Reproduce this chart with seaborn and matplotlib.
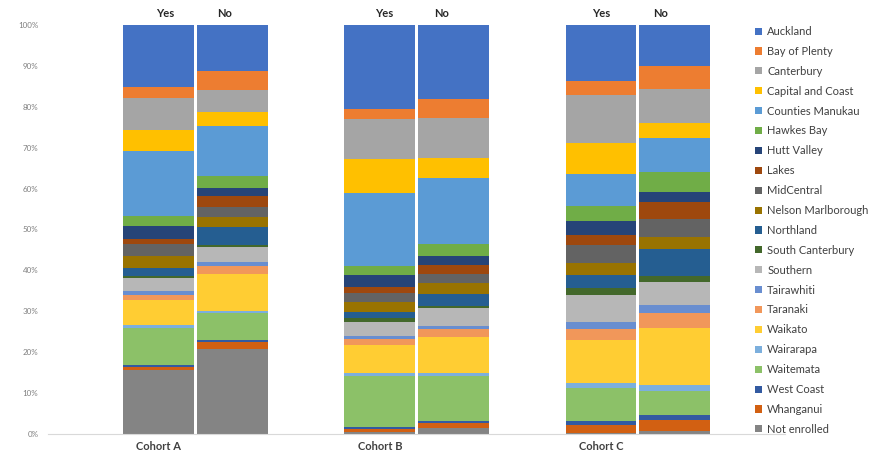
import numpy as np
import pandas as pd
import matplotlib
matplotlib.use("Agg")
import matplotlib.pyplot as plt
import seaborn as sns
from matplotlib.patches import Patch

# ---------------- data ----------------
regions = ["Auckland", "Bay of Plenty", "Canterbury", "Capital and Coast",
           "Counties Manukau", "Hawkes Bay", "Hutt Valley", "Lakes", "MidCentral",
           "Nelson Marlborough", "Northland", "South Canterbury", "Southern",
           "Tairawhiti", "Taranaki", "Waikato", "Wairarapa", "Waitemata",
           "West Coast", "Whanganui", "Not enrolled"]

region_colors = ["#4472C4", "#ED7D31", "#A5A5A5", "#FFC000", "#5B9BD5", "#70AD47",
                 "#264478", "#9E480E", "#636363", "#997300", "#255E91", "#43682B",
                 "#B7B7B7", "#698ED0", "#F1975A", "#FFCD33", "#7CAFDD", "#8CC168",
                 "#335AA1", "#D26012", "#848484"]

cohorts = ["Cohort A", "Cohort B", "Cohort C"]
responses = ["Yes", "No"]

# percentages per region (same order as `regions`)
cohort_a_yes = [15.2, 2.7, 7.6, 5.2, 16.0, 2.4, 3.0, 1.4, 2.8, 3.0, 2.0, 0.5,
                3.2, 1.0, 1.0, 6.3, 0.6, 9.1, 0.5, 0.8, 15.5]
cohort_a_no = [11.2, 4.6, 5.5, 3.5, 12.1, 3.1, 1.8, 2.7, 2.6, 2.4, 4.3, 0.6,
               3.5, 1.1, 2.0, 9.0, 0.6, 6.6, 0.5, 1.5, 20.9]
cohort_b_yes = [20.4, 2.6, 9.7, 8.2, 18.0, 2.0, 3.0, 1.5, 2.3, 2.4, 1.5, 0.8,
                3.6, 0.7, 1.5, 6.8, 0.7, 12.5, 0.5, 0.7, 0.4]
cohort_b_no = [18.2, 4.5, 9.8, 5.0, 16.1, 2.8, 2.4, 2.0, 2.4, 2.5, 2.9, 0.7,
               4.3, 0.8, 2.0, 8.7, 0.7, 10.9, 0.7, 1.1, 1.5]
cohort_c_yes = [13.6, 3.5, 11.8, 7.5, 7.8, 3.6, 3.5, 2.4, 4.4, 3.0, 3.3, 1.6,
                6.6, 1.7, 2.8, 10.4, 1.3, 8.0, 0.9, 2.1, 0.2]
cohort_c_no = [9.9, 5.8, 8.2, 3.6, 8.5, 4.7, 2.5, 4.1, 4.4, 3.1, 6.5, 1.5,
               5.6, 2.0, 3.6, 13.9, 1.5, 5.9, 1.1, 2.7, 0.8]

bars = {("Cohort A", "Yes"): cohort_a_yes, ("Cohort A", "No"): cohort_a_no,
        ("Cohort B", "Yes"): cohort_b_yes, ("Cohort B", "No"): cohort_b_no,
        ("Cohort C", "Yes"): cohort_c_yes, ("Cohort C", "No"): cohort_c_no}

# ---------------- long table with cumulative tops ----------------
rows = []
for (coh, resp), vals in bars.items():
    v = np.array(vals, dtype=float)
    v = v / v.sum() * 100.0
    # stack: last region at bottom, first region on top
    cum_top = np.cumsum(v[::-1])[::-1]
    for reg, top in zip(regions, cum_top):
        rows.append({"cohort": coh, "resp": resp, "region": reg, "top": top})
df = pd.DataFrame(rows)

# ---------------- figure ----------------
sns.set_theme(style="white")
plt.rcParams["font.family"] = ["Lato", "DejaVu Sans"]

fig = plt.figure(figsize=(8.73, 4.66), dpi=100)
ax = fig.add_axes([48 / 873, 1 - 434 / 466, (785 - 48) / 873, 409 / 466])

for reg, col in zip(regions, region_colors):
    sub = df[df["region"] == reg]
    sns.barplot(data=sub, x="cohort", y="top", hue="resp", order=cohorts,
                hue_order=responses, palette=[col, col], width=0.668, gap=0.04,
                saturation=1, errorbar=None, linewidth=0, legend=False, ax=ax)

ax.set_xlim(-0.667, 2.665)
ax.set_ylim(0, 100)
ax.set_xlabel("")
ax.set_ylabel("")
ax.grid(False)

ax.set_yticks(np.arange(0, 101, 10))
ax.set_yticklabels([f"{v}%" for v in range(0, 101, 10)], fontsize=5.8, color="#7f7f7f")
ax.tick_params(axis="y", length=0, pad=7)

ax.set_xticks([i - 0.167 for i in range(len(cohorts))])
ax.set_xticklabels(cohorts, fontsize=8, fontweight="bold", color="#404040")
ax.tick_params(axis="x", length=0, pad=5)

for s in ["top", "right", "left"]:
    ax.spines[s].set_visible(False)
ax.spines["bottom"].set_color("#d9d9d9")
ax.spines["bottom"].set_linewidth(0.8)

yes_off = [-0.138, -0.147, -0.167]
no_off = [0.133, 0.111, 0.104]
for i in range(len(cohorts)):
    ax.text(i + yes_off[i], 102.7, "Yes", ha="center", va="center",
            fontsize=8, fontweight="bold", color="#262626", clip_on=False)
    ax.text(i + no_off[i], 102.7, "No", ha="center", va="center",
            fontsize=8, fontweight="bold", color="#262626", clip_on=False)

handles = [Patch(facecolor=c, edgecolor="none", label=r)
           for r, c in zip(regions, region_colors)]
fig.legend(handles=handles, loc="upper left", bbox_to_anchor=(755 / 873, 1 - 26 / 466),
           frameon=False, fontsize=8, handlelength=0.6, handleheight=0.6,
           handletextpad=0.5, borderpad=0, borderaxespad=0, labelspacing=0.80,
           labelcolor="#404040")

fig.savefig("out.png", dpi=100)
